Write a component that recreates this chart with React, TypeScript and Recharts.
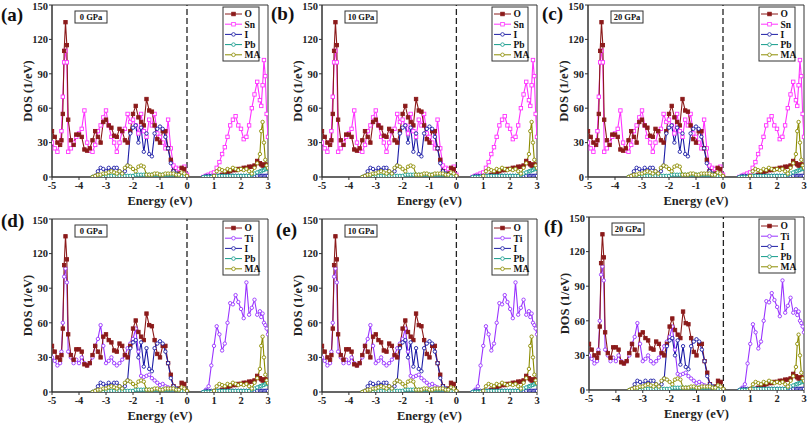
import React from "react";
import { LineChart, Line, XAxis, YAxis, ReferenceLine, ReferenceArea } from "recharts";

// energy grid (eV); 0.3 is a break row for the band gap
const energy = [
  -5.0, -4.9, -4.8, -4.7, -4.65, -4.6, -4.55, -4.5, -4.45, -4.4,
  -4.3, -4.2, -4.1, -4.0, -3.9, -3.8, -3.7, -3.6, -3.5, -3.4,
  -3.3, -3.2, -3.1, -3.0, -2.9, -2.8, -2.7, -2.6, -2.5, -2.4,
  -2.3, -2.2, -2.1, -2.0, -1.9, -1.8, -1.7, -1.6, -1.5, -1.4,
  -1.3, -1.2, -1.1, -1.0, -0.9, -0.8, -0.7, -0.6, -0.5, -0.4,
  -0.3, -0.2, -0.1, 0.0,
  0.3,
  0.6, 0.7, 0.8, 0.9, 1.0, 1.1, 1.2, 1.3, 1.4, 1.5,
  1.6, 1.7, 1.8, 1.9, 2.0, 2.1, 2.2, 2.3, 2.4, 2.5,
  2.6, 2.7, 2.75, 2.8, 2.85, 2.9, 2.95, 3.0,
];

const _ = null;

const dosO = [
  40, 35, 30, 28, 32, 55, 110, 135, 115, 50,
  32, 28, 37, 37, 35, 24, 23, 25, 32, 40,
  35, 30, 48, 50, 45, 43, 36, 35, 42, 40,
  32, 30, 40, 55, 62, 52, 48, 45, 68, 58,
  57, 45, 33, 30, 40, 40, 25, 15, 5, 2,
  3, 8, 7, 0,
  _,
  _, _, _, _, _, _, 1, 2, 3, 4,
  5, 6, 6, 7, 7, 8, 8, 9, 9, 10,
  14, 12, 11, 10, 10, 11, 10, 9,
];

const dosSn = [
  30, 25, 22, 30, 40, 70, 100, 110, 100, 22,
  25, 30, 35, 38, 42, 58, 30, 23, 22, 28,
  40, 45, 52, 58, 45, 35, 30, 22, 30, 40,
  42, 55, 48, 50, 45, 38, 55, 40, 35, 50,
  45, 55, 38, 35, 30, 25, 50, 25, 10, 8,
  7, 5, 9, 2,
  _,
  0, 1, 2, 3, 4, 8, 13, 20, 26, 35,
  45, 50, 53, 45, 42, 33, 35, 45, 60, 72,
  83, 67, 62, 80, 102, 88, 55, 35,
];

const dosTi = [
  30, 27, 23, 25, 35, 60, 100, 107, 95, 35,
  30, 25, 28, 25, 30, 25, 23, 25, 30, 40,
  46, 58, 40, 25, 27, 30, 25, 23, 25, 28,
  32, 38, 42, 46, 55, 35, 14, 13, 14, 15,
  12, 10, 8, 6, 7, 5, 4, 3, 2, 1,
  1, 1, 1, 0,
  _,
  0, 2, 5, 23, 40, 57, 50, 36, 42, 60,
  77, 76, 84, 78, 72, 64, 95, 67, 73, 80,
  67, 70, 65, 68, 60, 58, 55, 50,
];

const dosI = [
  _, _, _, _, _, _, _, _, _, _,
  _, _, _, _, _, _, _, _, 0, 1,
  5, 8, 7, 5, 8, 6, 8, 8, 5, 3,
  5, 10, 38, 43, 45, 30, 43, 22, 38, 20,
  18, 38, 42, 44, 42, 35, 25, 12, 5, 3,
  2, 1, 1, 0,
  _,
  0, 1, 1, 1, 1, 1, 1, 1, 1, 1,
  1, 1, 1, 1, 1, 1, 1, 1, 1, 1,
  1, 1, 1, 1, 1, 1, 1, 1,
];

const dosPb = [
  _, _, _, _, _, _, _, _, _, _,
  _, _, _, _, _, _, _, _, 0, 0,
  0, 0, 0, 1, 1, 1, 1, 1, 1, 1,
  1, 1, 1, 1, 2, 2, 2, 2, 2, 2,
  2, 2, 2, 2, 2, 2, 2, 2, 2, 2,
  1, 1, 1, 0,
  _,
  0, 0, 0, 0, 0, 1, 1, 1, 1, 1,
  1, 1, 1, 1, 1, 1, 1, 1, 2, 3,
  4, 5, 5, 6, 6, 7, 7, 7,
];

const dosMA = [
  _, _, _, _, _, _, _, _, _, _,
  _, _, _, _, _, _, _, _, 0, 1,
  2, 2, 3, 3, 4, 5, 4, 3, 5, 3,
  8, 10, 9, 7, 5, 9, 10, 9, 2, 2,
  2, 3, 3, 2, 2, 3, 3, 3, 3, 2,
  2, 4, 3, 1,
  _,
  _, _, _, _, 1, 5, 7, 6, 5, 7,
  6, 8, 7, 6, 7, 6, 7, 5, 3, 8,
  12, 20, 40, 48, 30, 15, 10, 8,
];

const xTicks = [-5, -4, -3, -2, -1, 0, 1, 2, 3];
const yTicks = [0, 30, 60, 90, 120, 150];
const pressures = ["0 GPa", "10 GPa", "20 GPa"];
const panelLetters = ["(a)", "(b)", "(c)", "(d)", "(e)", "(f)"];

const rows = energy.map((e, i) => ({
  e,
  O: dosO[i],
  Sn: dosSn[i],
  Ti: dosTi[i],
  I: dosI[i],
  Pb: dosPb[i],
  MA: dosMA[i],
}));

type Series = { key: string; color: string; shape: "square" | "circle"; filled: boolean };

const sO: Series = { key: "O", color: "#8b1a1a", shape: "square", filled: true };
const sSn: Series = { key: "Sn", color: "#ff33ff", shape: "square", filled: false };
const sTi: Series = { key: "Ti", color: "#9933ff", shape: "circle", filled: false };
const sI: Series = { key: "I", color: "#1c1ca6", shape: "circle", filled: false };
const sPb: Series = { key: "Pb", color: "#139b8b", shape: "circle", filled: false };
const sMA: Series = { key: "MA", color: "#8c8c00", shape: "circle", filled: false };

const topSeries = [sO, sSn, sI, sPb, sMA];
const bottomSeries = [sO, sTi, sI, sPb, sMA];

const panels = [
  { pl: 52, pt: 5, pw: 216, ph: 172, series: topSeries, p: 0, lx: 1, ly: 21 },
  { pl: 322, pt: 5, pw: 215, ph: 172, series: topSeries, p: 1, lx: 271, ly: 20 },
  { pl: 588, pt: 5, pw: 216, ph: 172, series: topSeries, p: 2, lx: 542, ly: 20 },
  { pl: 52, pt: 219, pw: 216, ph: 173, series: bottomSeries, p: 0, lx: 1, ly: 227 },
  { pl: 322, pt: 219, pw: 215, ph: 173, series: bottomSeries, p: 1, lx: 276, ly: 236 },
  { pl: 589, pt: 217, pw: 215, ph: 173, series: bottomSeries, p: 2, lx: 544, ly: 233 },
];

const FONT = '"Liberation Serif", "DejaVu Serif", serif';

const makeDot = (s: Series) => (props: any) => {
  const { cx, cy, index, value } = props;
  if (cx == null || cy == null || value == null || isNaN(cy)) return <g key={`n${index}`} />;
  const fill = s.filled ? s.color : "#fff";
  if (s.shape === "square")
    return (
      <rect key={index} x={cx - 1.7} y={cy - 1.7} width={3.4} height={3.4} fill={fill} stroke={s.color} strokeWidth={0.9} />
    );
  return <circle key={index} cx={cx} cy={cy} r={1.7} fill={fill} stroke={s.color} strokeWidth={0.9} />;
};

const Marker = ({ s, x, y }: { s: Series; x: number; y: number }) =>
  s.shape === "square" ? (
    <rect x={x - 1.8} y={y - 1.8} width={3.6} height={3.6} fill={s.filled ? s.color : "#fff"} stroke={s.color} strokeWidth={0.8} />
  ) : (
    <circle cx={x} cy={y} r={1.8} fill="#fff" stroke={s.color} strokeWidth={0.8} />
  );

const tickStyle = { fontSize: 10.5, fontWeight: 700, fill: "#222", fontFamily: FONT };

const Panel = ({ cfg }: { cfg: (typeof panels)[number] }) => {
  const yW = 45;
  const mTop = 4;
  const xH = 20;
  // draw the big series (Sn/Ti) first so O sits on top
  const order = [cfg.series[1], cfg.series[0], cfg.series[2], cfg.series[3], cfg.series[4]];
  return (
    <div style={{ position: "absolute", left: cfg.pl - yW, top: cfg.pt - mTop }}>
      <LineChart
        width={cfg.pw + yW + 4}
        height={cfg.ph + mTop + xH}
        data={rows}
        margin={{ top: mTop, right: 4, left: 0, bottom: 0 }}
      >
        <XAxis
          dataKey="e"
          type="number"
          domain={[-5, 3]}
          ticks={xTicks}
          height={xH}
          tickSize={3}
          tickMargin={2}
          tick={tickStyle}
          stroke="#333"
          allowDataOverflow
        />
        <YAxis
          type="number"
          domain={[0, 150]}
          ticks={yTicks}
          width={yW}
          tickSize={3}
          tickMargin={1}
          tick={tickStyle}
          stroke="#333"
          allowDataOverflow
        />
        <ReferenceArea x1={-5} x2={3} y1={0} y2={150} fill="none" stroke="#333" strokeWidth={1} />
        <ReferenceLine x={0} stroke="#222" strokeWidth={1.3} strokeDasharray="6 3" />
        {order.map((s) => (
          <Line
            key={s.key}
            type="linear"
            dataKey={s.key}
            stroke={s.color}
            strokeWidth={1.1}
            dot={makeDot(s)}
            activeDot={false}
            connectNulls={false}
            isAnimationActive={false}
          />
        ))}
      </LineChart>
    </div>
  );
};

const Overlay = () => (
  <svg width={808} height={423} style={{ position: "absolute", left: 0, top: 0, pointerEvents: "none" }} fontFamily={FONT} fontWeight={700}>
    {panels.map((c, i) => {
      const lgX = c.pl + c.pw - 45;
      const lgY = c.pt + 2;
      return (
        <g key={i}>
          <text x={c.lx} y={c.ly} fontSize={19} fill="#111">
            {panelLetters[i]}
          </text>
          <text
            x={c.pl - 20}
            y={c.pt + c.ph / 2}
            fontSize={12.5}
            fill="#222"
            textAnchor="middle"
            transform={`rotate(-90 ${c.pl - 20} ${c.pt + c.ph / 2})`}
          >
            {"DOS  (1/eV)"}
          </text>
          <text x={c.pl + c.pw / 2} y={c.pt + c.ph + 28} fontSize={12.5} fill="#222" textAnchor="middle">
            {"Energy  (eV)"}
          </text>
          <rect x={c.pl + 23} y={c.pt + 6} width={32} height={12} fill="#fff" stroke="#333" strokeWidth={1} />
          <text x={c.pl + 39} y={c.pt + 15} fontSize={8.5} fill="#111" textAnchor="middle">
            {pressures[c.p]}
          </text>
          <rect x={lgX} y={lgY} width={36} height={54} fill="#fff" stroke="#333" strokeWidth={1} />
          {c.series.map((s, j) => {
            const yy = lgY + 7 + j * 10.2;
            return (
              <g key={s.key}>
                <line x1={lgX + 2} x2={lgX + 19} y1={yy} y2={yy} stroke={s.color} strokeWidth={1} />
                <Marker s={s} x={lgX + 10.5} y={yy} />
                <text x={lgX + 21.5} y={yy + 3.3} fontSize={9.5} fill="#111">
                  {s.key}
                </text>
              </g>
            );
          })}
        </g>
      );
    })}
  </svg>
);

export default function App() {
  return (
    <div style={{ position: "absolute", left: 0, top: 0, width: 808, height: 423, background: "#fff", fontFamily: FONT }}>
      {panels.map((c, i) => (
        <Panel key={i} cfg={c} />
      ))}
      <Overlay />
    </div>
  );
}
